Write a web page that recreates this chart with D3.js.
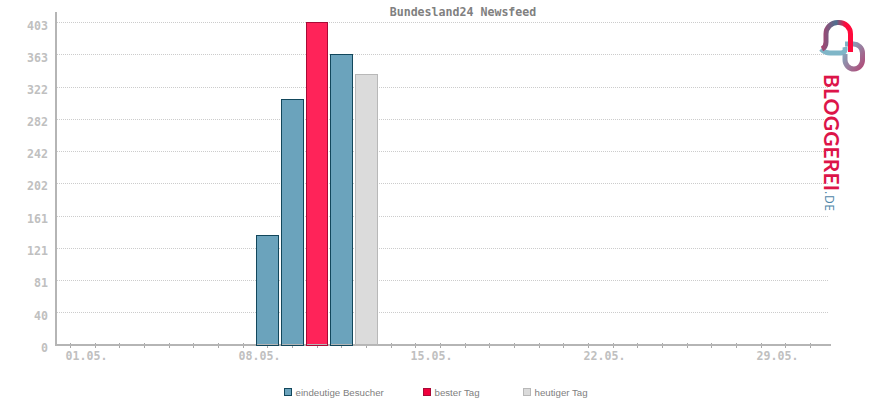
<!DOCTYPE html>
<html>
<head>
<meta charset="utf-8">
<script src="https://cdn.jsdelivr.net/npm/d3@7"></script>
<style>
  html, body { margin: 0; padding: 0; background: #fff; }
  svg { display: block; }
</style>
</head>
<body>
<svg id="chart"></svg>
<script>
const width = 870;
const height = 400;
const monoFont = '"DejaVu Sans Mono", monospace';

// data
const title = 'Bundesland24 Newsfeed';
const days = d3.range(1, 32);
const dayLabels = ['01.05.', '08.05.', '15.05.', '22.05.', '29.05.'];
const labelDays = [1, 8, 15, 22, 29];
const barDays = [9, 10, 11, 12, 13];
const barValues = [137, 307, 403, 363, 338];
const barKinds = ['visitors', 'visitors', 'best', 'visitors', 'today'];
const yTicks = [0, 40, 81, 121, 161, 202, 242, 282, 322, 363, 403];
const legendKeys = ['visitors', 'best', 'today'];
const legendLabels = ['eindeutige Besucher', 'bester Tag', 'heutiger Tag'];

// colors
const fills = { visitors: '#6ba3bc', best: '#ff2359', today: '#dbdbdb' };
const strokes = { visitors: '#12475c', best: '#a80a36', today: '#b8b8b8' };
const legendFills = { visitors: '#6ba3bc', best: '#f0003c', today: '#dbdbdb' };
const axisColor = '#b5b5b5';

const svg = d3.select('#chart').attr('width', width).attr('height', height);

const x = d3.scaleLinear().domain([1, 31]).range([70.4, 810.4]);
const y = d3.scaleLinear().domain([0, 403]).range([345, 22.5]);
const snap = v => Math.floor(v) + 0.5;
const barLeft = d => snap(x(d) - 11);
const barRight = d => snap(x(d) + 10.65);

// title
svg.append('text')
  .attr('x', 463)
  .attr('y', 16)
  .attr('text-anchor', 'middle')
  .attr('font-size', 11.6)
  .attr('font-weight', 'bold')
  .attr('font-family', monoFont)
  .attr('fill', '#808080')
  .text(title);

// grid
svg.append('g')
  .selectAll('line')
  .data(yTicks.slice(1))
  .join('line')
  .attr('x1', 57)
  .attr('x2', 829)
  .attr('y1', d => snap(y(d)))
  .attr('y2', d => snap(y(d)))
  .attr('stroke', '#cccccc')
  .attr('stroke-dasharray', '1 1');

// axes
const xAxis = d3.axisBottom(x)
  .tickValues(days)
  .tickSize(0)
  .tickFormat(d => {
    const i = labelDays.indexOf(d);
    return i < 0 ? '' : dayLabels[i];
  });
const xG = svg.append('g').attr('transform', 'translate(0,345)').call(xAxis);
xG.select('.domain').remove();
xG.selectAll('.tick').attr('transform', d => `translate(${snap(x(d))},0)`);
xG.selectAll('line').attr('y1', -2).attr('y2', 3).attr('stroke', '#a8a8a8');
xG.selectAll('text')
  .attr('x', -5)
  .attr('y', 15)
  .attr('dy', null)
  .attr('text-anchor', 'start')
  .attr('font-size', 11.6)
  .attr('font-weight', 'bold')
  .attr('font-family', monoFont)
  .attr('fill', '#c0c0c0');

const yAxis = d3.axisLeft(y).tickValues(yTicks).tickSize(0).tickPadding(7);
const yG = svg.append('g').attr('transform', 'translate(55,0)').call(yAxis);
yG.select('.domain').remove();
yG.selectAll('text')
  .attr('dy', 6.5)
  .attr('font-size', 11.6)
  .attr('font-weight', 'bold')
  .attr('font-family', monoFont)
  .attr('fill', '#c0c0c0');

svg.append('line').attr('x1', 56).attr('x2', 56).attr('y1', 12).attr('y2', 346)
  .attr('stroke', axisColor).attr('stroke-width', 2);
svg.append('line').attr('x1', 55).attr('x2', 831).attr('y1', 345).attr('y2', 345)
  .attr('stroke', axisColor).attr('stroke-width', 2);

// bars
svg.append('g')
  .selectAll('rect')
  .data(barDays)
  .join('rect')
  .attr('x', barLeft)
  .attr('width', d => barRight(d) - barLeft(d))
  .attr('y', (d, i) => snap(y(barValues[i])))
  .attr('height', (d, i) => 345.5 - snap(y(barValues[i])))
  .attr('fill', (d, i) => fills[barKinds[i]])
  .attr('stroke', (d, i) => strokes[barKinds[i]])
  .attr('stroke-width', 1);

// axis line shows through the bottom of the bars
svg.append('g')
  .selectAll('line')
  .data(barDays)
  .join('line')
  .attr('x1', d => barLeft(d) + 0.5)
  .attr('x2', d => barRight(d) - 0.5)
  .attr('y1', 344.5)
  .attr('y2', 344.5)
  .attr('stroke', axisColor);

// legend
const legendX = d3.scaleOrdinal().domain(legendKeys).range([284, 423, 523]);
const legend = svg.append('g')
  .selectAll('g')
  .data(legendKeys)
  .join('g')
  .attr('transform', d => `translate(${legendX(d)},388)`);
legend.append('rect')
  .attr('x', 0.5).attr('y', 0.5).attr('width', 7).attr('height', 7)
  .attr('fill', d => legendFills[d])
  .attr('stroke', d => strokes[d]);
legend.append('text')
  .attr('x', 11.5)
  .attr('y', 7.5)
  .attr('font-size', 9.7)
  .attr('fill', '#808080')
  .attr('font-family', '"Liberation Sans", sans-serif')
  .text((d, i) => legendLabels[i]);

// logo
const defs = svg.append('defs');
const grad = defs.append('linearGradient')
  .attr('id', 'logoGrad')
  .attr('gradientUnits', 'userSpaceOnUse')
  .attr('x1', 0).attr('y1', 74).attr('x2', 0).attr('y2', 190);
grad.append('stop').attr('offset', '0%').attr('stop-color', '#dc1548');
grad.append('stop').attr('offset', '50%').attr('stop-color', '#96446e');
grad.append('stop').attr('offset', '100%').attr('stop-color', '#4d6f92');

const loopA = defs.append('linearGradient').attr('id', 'loopA');
loopA.append('stop').attr('offset', '0%').attr('stop-color', '#a64470');
loopA.append('stop').attr('offset', '50%').attr('stop-color', '#4c7090');
loopA.append('stop').attr('offset', '82%').attr('stop-color', '#ff0a3c');

const loopB = defs.append('linearGradient').attr('id', 'loopB')
  .attr('x1', 0).attr('y1', 0).attr('x2', 1).attr('y2', 1);
loopB.append('stop').attr('offset', '0%').attr('stop-color', '#7fb6c8');
loopB.append('stop').attr('offset', '100%').attr('stop-color', '#b04a78');

const logo = svg.append('g').attr('fill', 'none').attr('stroke-width', 5);
logo.append('path')
  .attr('d', 'M821 49 Q825 53 830 53 H841 Q846 53 845 47')
  .attr('stroke', '#7fb6c8');
logo.append('path')
  .attr('d', 'M845 54 V60 A9 9 0 0 0 854 69 A9 9 0 0 0 862.5 60 V53 A9 9 0 0 0 853 44 H845')
  .attr('stroke', 'url(#loopB)');
logo.append('path')
  .attr('d', 'M822 49 Q826 47 826 42 V34 A11.5 11.5 0 0 1 837.5 22.5 H839 A11.5 11.5 0 0 1 850.5 34 V52')
  .attr('stroke', 'url(#loopA)');

svg.append('text')
  .attr('transform', 'translate(824,74) rotate(90)')
  .attr('font-family', 'Lato, sans-serif')
  .attr('font-size', 21)
  .attr('font-weight', 'bold')
  .attr('textLength', 117)
  .attr('fill', 'url(#logoGrad)')
  .text('BLOGGEREI');
svg.append('text')
  .attr('transform', 'translate(824.5,191) rotate(90)')
  .attr('font-family', '"Open Sans", sans-serif')
  .attr('font-size', 12)
  .attr('textLength', 20)
  .attr('fill', '#4f86a8')
  .text('.DE');
</script>
</body>
</html>
